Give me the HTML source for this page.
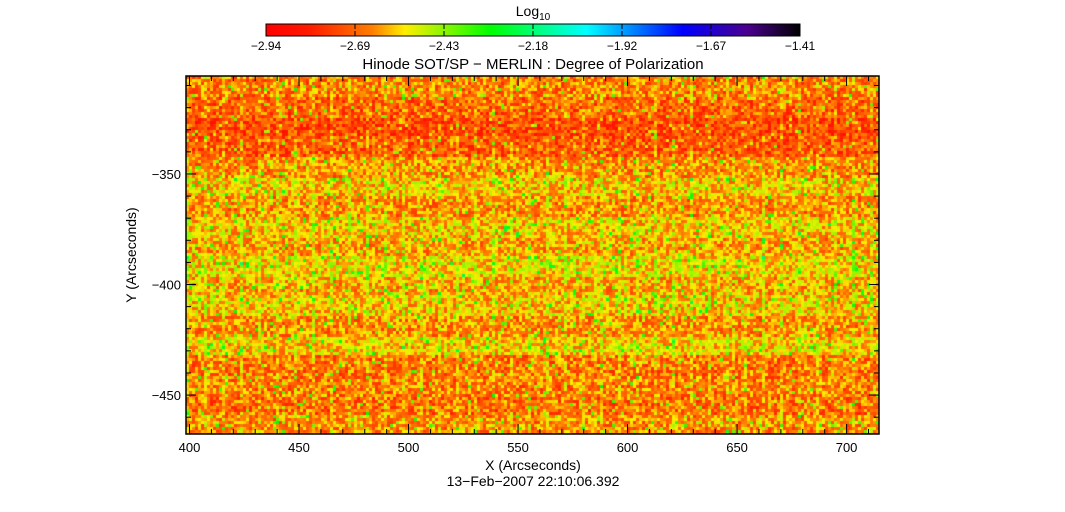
<!DOCTYPE html>
<html><head><meta charset="utf-8"><style>
html,body{margin:0;padding:0;background:#fff;width:1065px;height:512px;overflow:hidden}
svg{display:block;font-family:"Liberation Sans",sans-serif}
</style></head><body>
<svg id="chart" width="1065" height="512" viewBox="0 0 1065 512">
<defs>
<linearGradient id="cmap" x1="0" x2="1" y1="0" y2="0">
<stop offset="0" stop-color="#ff0000"/><stop offset="0.08" stop-color="#ff1a00"/>
<stop offset="0.2" stop-color="#ff8000"/><stop offset="0.26" stop-color="#ffee00"/>
<stop offset="0.42" stop-color="#00ff00"/><stop offset="0.6" stop-color="#00ffff"/>
<stop offset="0.78" stop-color="#0000ff"/><stop offset="0.9" stop-color="#4b0090"/>
<stop offset="1" stop-color="#000000"/></linearGradient>
</defs>
<text x="533" y="16" font-size="14" text-anchor="middle">Log<tspan font-size="10" dy="4">10</tspan></text>
<rect x="266" y="24" width="534" height="12" fill="url(#cmap)" stroke="#000" stroke-width="1"/>
<g id="cbticks"></g>
<text x="533" y="69" font-size="15" text-anchor="middle">Hinode SOT/SP − MERLIN : Degree of Polarization</text>
<foreignObject x="186" y="76" width="693" height="358"><canvas xmlns="http://www.w3.org/1999/xhtml" id="hm" width="693" height="358" style="display:block"></canvas></foreignObject>
<rect x="186" y="76" width="693" height="358" fill="none" stroke="#000" stroke-width="1.5"/>
<g id="axes"></g>
<text x="533" y="470" font-size="14" text-anchor="middle">X (Arcseconds)</text>
<text x="533" y="486" font-size="14" text-anchor="middle">13−Feb−2007 22:10:06.392</text>
<text x="0" y="0" font-size="14" text-anchor="middle" transform="translate(136,255) rotate(-90)">Y (Arcseconds)</text>
</svg>
<script>
const cbLabels=["−2.94","−2.69","−2.43","−2.18","−1.92","−1.67","−1.41"];
const xTicks=[400,450,500,550,600,650,700];
const yTicks=[-350,-400,-450];
// row-band mean log10 values, top (-306) to bottom (-468), each band 9 arcsec
const bandMeans=[-2.66,-2.70,-2.74,-2.71,-2.64,-2.58,-2.64,-2.58,-2.62,-2.56,-2.61,-2.58,-2.64,-2.57,-2.67,-2.66,-2.68,-2.64];
const X0=398.4,X1=714.8,Y0=-305.7,Y1=-467.6,L=186,T=76,W=693,H=358;
const sx=v=>L+(v-X0)/(X1-X0)*W, sy=v=>T+(v-Y0)/(Y1-Y0)*H;
const NS="http://www.w3.org/2000/svg";
function mk(tag,a,p){const e=document.createElementNS(NS,tag);for(const k in a)e.setAttribute(k,a[k]);p.appendChild(e);return e;}
const cb=document.getElementById('cbticks');
cbLabels.forEach((s,i)=>{const x=266+i*534/6;
 const t=mk('text',{x:x,y:50,'font-size':12,'text-anchor':'middle'},cb);
 
 
 t.textContent=s;
 if(i>0&&i<6){mk('line',{x1:x,x2:x,y1:24,y2:29,stroke:'#000'},cb);mk('line',{x1:x,x2:x,y1:31,y2:36,stroke:'#000'},cb);}
});
const ax=document.getElementById('axes');
for(let v=400;v<=710;v+=10){const x=sx(v),maj=v%50==0,len=maj?10:5;
 mk('line',{x1:x,x2:x,y1:T+H,y2:T+H-len,stroke:'#000'},ax);mk('line',{x1:x,x2:x,y1:T,y2:T+len,stroke:'#000'},ax);}
for(let v=-310;v>=-460;v-=10){const y=sy(v),maj=v%50==0,len=maj?10:5;
 mk('line',{x1:L,x2:L+len,y1:y,y2:y,stroke:'#000'},ax);mk('line',{x1:L+W,x2:L+W-len,y1:y,y2:y,stroke:'#000'},ax);}
xTicks.forEach(v=>{const t=mk('text',{x:sx(v),y:452,'font-size':13,'text-anchor':'middle'},ax);
 
 
 t.textContent=v;});
yTicks.forEach(v=>{const t=mk('text',{x:L-5,y:sy(v)+5,'font-size':13,'text-anchor':'end'},ax);
 
 
 t.textContent='−'+Math.abs(v);});
function cmap(v){const f=Math.max(0,Math.min(1,(v+2.94)/1.53));
 const st=[[0,255,0,0],[0.08,255,26,0],[0.2,255,128,0],[0.26,255,238,0],[0.42,0,255,0],[0.6,0,255,255],[0.78,0,0,255],[0.9,75,0,144],[1,0,0,0]];
 for(let i=1;i<st.length;i++)if(f<=st[i][0]){const a=st[i-1],b=st[i],t=(f-a[0])/(b[0]-a[0]);return [a[1]+(b[1]-a[1])*t,a[2]+(b[2]-a[2])*t,a[3]+(b[3]-a[3])*t];}
 return [0,0,0];}
function hash(i,j){let h=(i*374761393+j*668265263)|0;h=(h^(h>>>13))*1274126177|0;return ((h^(h>>>16))>>>0)/4294967296;}
const cv=document.getElementById('hm'),ctx=cv.getContext('2d'),img=ctx.createImageData(W,H);
const cs=3;
for(let r=0;r<H;r+=cs){const yv=Y0+(r/H)*(Y1-Y0);const bi=Math.min(bandMeans.length-1,Math.floor((Y0-yv)/9));
 const m=bandMeans[bi];
 for(let c=0;c<W;c+=cs){const n=hash(c/cs,r/cs),n2=hash(r/cs+7,c/cs+3);
  let v=m+(n-0.5)*0.26+(n2>0.93?0.2:0)+((c/cs)%6==0?0.06:0);
  const [R,G,B]=cmap(v);
  for(let dy=0;dy<cs&&r+dy<H;dy++)for(let dx=0;dx<cs&&c+dx<W;dx++){const k=((r+dy)*W+c+dx)*4;img.data[k]=R;img.data[k+1]=G;img.data[k+2]=B;img.data[k+3]=255;}
 }}
ctx.putImageData(img,0,0);


</script>
</body></html>
